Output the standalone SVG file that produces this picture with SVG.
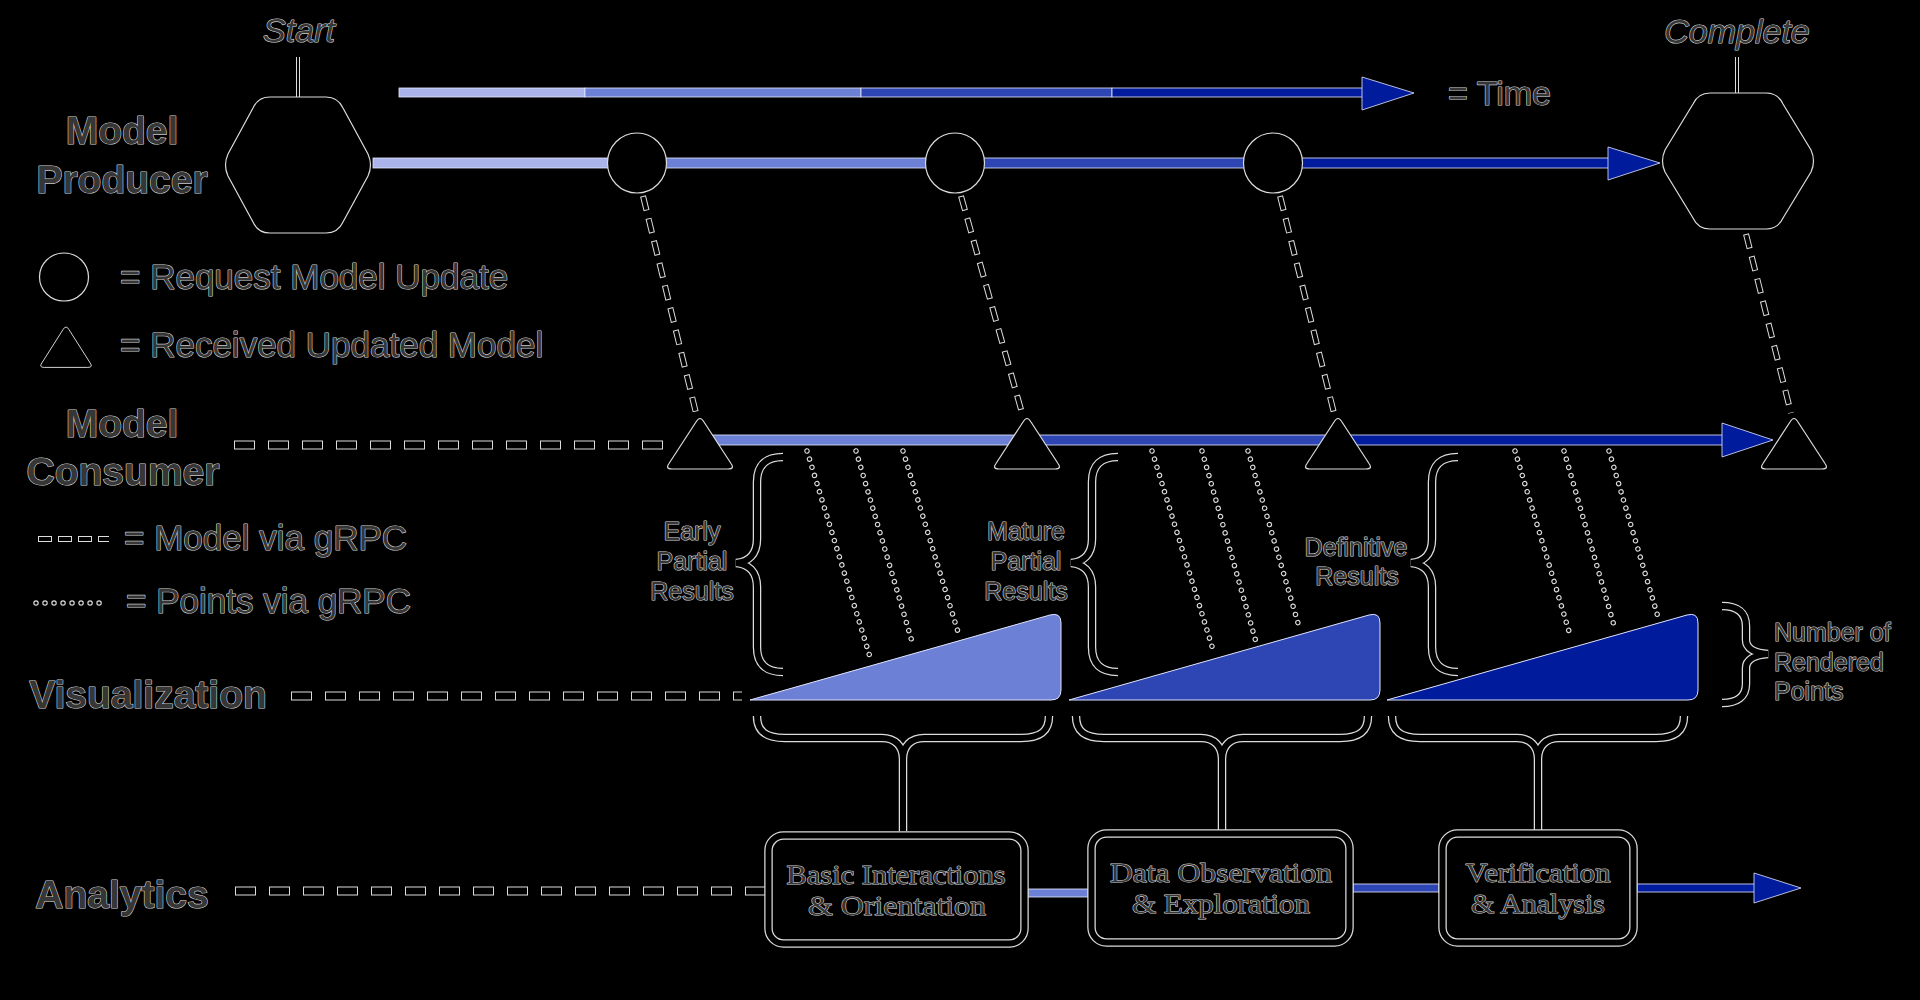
<svg xmlns="http://www.w3.org/2000/svg" xmlns:xlink="http://www.w3.org/1999/xlink" width="1920" height="1000" viewBox="0 0 1920 1000">
<defs>
<style>
.t{font-family:"Liberation Sans",Arial,sans-serif;fill:#363636;stroke:#d4d4d4;stroke-width:1.2;paint-order:stroke;stroke-linejoin:round}
.b{font-weight:bold;font-size:39px;text-anchor:middle}
.l{font-size:35px}
.s{font-size:25px}
.c{text-anchor:middle}
.i{font-style:italic;font-size:34px;text-anchor:middle}
.sf{font-family:"Liberation Serif","Times New Roman",serif;font-size:28px;text-anchor:middle;fill:#363636;stroke:#d4d4d4;stroke-width:1.1;paint-order:stroke}
.shape{fill:#000;stroke:#dcdcdc;stroke-width:1.2}
.c1{fill:#aab4ea}
.c2{fill:#6c80d6}
.c3{fill:#2e46b3}
.c4{fill:#001b9b}
.bar{stroke:#e6e8ff;stroke-width:0.8}
.dO{fill:none;stroke:#dcdcdc;stroke-width:9;stroke-dasharray:21 13}
.dI{fill:none;stroke:#000;stroke-width:7;stroke-dasharray:19 15;stroke-dashoffset:-1}
.mO{fill:none;stroke:#dcdcdc;stroke-width:6;stroke-dasharray:15 8}
.mI{fill:none;stroke:#000;stroke-width:4;stroke-dasharray:13 10;stroke-dashoffset:-1}
.pO{fill:none;stroke:#dcdcdc;stroke-width:5.5;stroke-linecap:round;stroke-dasharray:0.01 8.5}
.pI{fill:none;stroke:#000;stroke-width:3.2;stroke-linecap:round;stroke-dasharray:0.01 8.5}
.brO{fill:none;stroke:#dcdcdc;stroke-width:8.5}
.brI{fill:none;stroke:#000;stroke-width:6}
</style>
<path id="tri" d="M-4,6 Q0,-1 4,6 L31,47.5 Q35,53 28,53 L-28,53 Q-35,53 -31,47.5 Z"/>
<path id="vbrace" d="M47,0 C30,0 21,8 21,25 L21,82 C21,98 12,105 0,106 C12,107 21,114 21,130 L21,190 C21,207 30,215 47,215"/>
<path id="rbrace" d="M0,0 C15,0 24,6 24,20 L24,34 C24,42 32,47 46,48 C32,49 24,54 24,62 L24,78 C24,91 15,97 0,97"/>
<path id="hbrace" d="M0,0 C0,15 8,22 28,22 L125,22 C138,22 146,30 146,43 L146,115 M292,0 C292,15 284,22 264,22 L167,22 C154,22 146,30 146,43"/>
<path id="wedge" d="M0,88 L300,3 Q311,0 311,11 L311,78 Q311,88 301,88 Z"/>
</defs>
<rect x="0" y="0" width="1920" height="1000" fill="#000"/>

<g id="connectors">
  <!-- time legend arrow -->
  <rect class="c1 bar" x="399" y="88" width="186" height="9"/>
  <rect class="c2 bar" x="585" y="88" width="276" height="9"/>
  <rect class="c3 bar" x="861" y="88" width="251" height="9"/>
  <rect class="c4 bar" x="1112" y="88" width="252" height="9"/>
  <polygon class="c4" points="1362,77 1414,93 1362,110" stroke="#e6e8ff" stroke-width="0.8"/>
  <!-- producer timeline -->
  <rect class="c1 bar" x="373" y="158" width="264" height="10"/>
  <rect class="c2 bar" x="637" y="158" width="318" height="10"/>
  <rect class="c3 bar" x="955" y="158" width="318" height="10"/>
  <rect class="c4 bar" x="1273" y="158" width="338" height="10"/>
  <polygon class="c4" points="1608,147 1660,163 1608,180" stroke="#e6e8ff" stroke-width="0.8"/>
  <!-- consumer timeline -->
  <rect class="c2 bar" x="700" y="435" width="327" height="10"/>
  <rect class="c3 bar" x="1027" y="435" width="311" height="10"/>
  <rect class="c4 bar" x="1338" y="435" width="386" height="10"/>
  <polygon class="c4" points="1722,423 1773,440 1722,457" stroke="#e6e8ff" stroke-width="0.8"/>
  <!-- analytics timeline -->
  <rect class="c2 bar" x="1028" y="889" width="60" height="8"/>
  <rect class="c3 bar" x="1353" y="884" width="86" height="8"/>
  <rect class="c4 bar" x="1637" y="884" width="119" height="8"/>
  <polygon class="c4" points="1754,873 1801,888 1754,903" stroke="#e6e8ff" stroke-width="0.8"/>
  <!-- start/complete ticks -->
  <line x1="298" y1="57" x2="298" y2="97" stroke="#dcdcdc" stroke-width="4"/>
  <line x1="298" y1="57" x2="298" y2="97" stroke="#000" stroke-width="2"/>
  <line x1="1737" y1="57" x2="1737" y2="93" stroke="#dcdcdc" stroke-width="4"/>
  <line x1="1737" y1="57" x2="1737" y2="93" stroke="#000" stroke-width="2"/>
  <!-- lane dashed lines (model via gRPC) -->
  <path class="dO" d="M234,445 H672 M291,696 H742 M235,891 H766"/>
  <path class="dI" d="M234,445 H672 M291,696 H742 M235,891 H766"/>
  <!-- diagonal model transfers -->
  <path class="mO" d="M643,196 L696,413 M961,196 L1022,413 M1280,196 L1334,413 M1746,234 L1791,413"/>
  <path class="mI" d="M643,196 L696,413 M961,196 L1022,413 M1280,196 L1334,413 M1746,234 L1791,413"/>
  <!-- points via gRPC -->
  <path class="pO" d="M807,451 L870,657 M856,451 L913,645 M903,451 L958,632 M1152,451 L1214,653 M1202,451 L1256,642 M1248,451 L1300,630 M1515,451 L1571,638 M1564,451 L1615,629 M1609,451 L1658,617"/>
  <path class="pI" d="M807,451 L870,657 M856,451 L913,645 M903,451 L958,632 M1152,451 L1214,653 M1202,451 L1256,642 M1248,451 L1300,630 M1515,451 L1571,638 M1564,451 L1615,629 M1609,451 L1658,617"/>
  <!-- braces to analytics boxes -->
  <g transform="translate(757,716)"><use xlink:href="#hbrace" class="brO"/><use xlink:href="#hbrace" class="brI"/></g>
  <g transform="translate(1076,716)"><use xlink:href="#hbrace" class="brO"/><use xlink:href="#hbrace" class="brI"/></g>
  <g transform="translate(1392,716)"><use xlink:href="#hbrace" class="brO"/><use xlink:href="#hbrace" class="brI"/></g>
</g>

<g id="producer-start">
  <path class="shape" d="M270,97 L326,97 Q338,97 343,108 L368,154 Q373,165 368,176 L343,222 Q338,233 326,233 L270,233 Q258,233 253,222 L228,176 Q223,165 228,154 L253,108 Q258,97 270,97 Z"/>
  <text class="t i" x="299" y="42">Start</text>
</g>
<g id="producer-complete">
  <path class="shape" d="M1710,93 L1766,93 Q1778,93 1783,104 L1811,150 Q1816,161 1811,172 L1783,218 Q1778,229 1766,229 L1710,229 Q1698,229 1693,218 L1665,172 Q1660,161 1665,150 L1693,104 Q1698,93 1710,93 Z"/>
  <text class="t i" x="1737" y="43">Complete</text>
</g>
<g id="request-1"><ellipse class="shape" cx="637" cy="163" rx="29.5" ry="30"/></g>
<g id="request-2"><ellipse class="shape" cx="955" cy="163" rx="29.5" ry="30"/></g>
<g id="request-3"><ellipse class="shape" cx="1273" cy="163" rx="29.5" ry="30"/></g>

<g id="received-1"><use xlink:href="#tri" class="shape" x="700" y="416"/></g>
<g id="received-2"><use xlink:href="#tri" class="shape" x="1027" y="416"/></g>
<g id="received-3"><use xlink:href="#tri" class="shape" x="1338" y="416"/></g>
<g id="received-4"><use xlink:href="#tri" class="shape" x="1794" y="416"/></g>

<g id="lane-labels">
  <text class="t b" x="122" y="144">Model</text>
  <text class="t b" x="122" y="193">Producer</text>
  <text class="t b" x="122" y="437">Model</text>
  <text class="t b" x="123" y="485">Consumer</text>
  <text class="t b" x="148" y="708">Visualization</text>
  <text class="t b" x="122" y="908">Analytics</text>
</g>

<g id="legend">
  <text class="t l" x="1448" y="105" style="font-size:34px">= Time</text>
  <ellipse class="shape" cx="64" cy="277" rx="24.5" ry="24"/>
  <text class="t l" x="120" y="289">= Request Model Update</text>
  <use xlink:href="#tri" class="shape" transform="translate(66,325) scale(0.78,0.8)"/>
  <text class="t l" x="120" y="357">= Received Updated Model</text>
  <path d="M38,539 H109" fill="none" stroke="#dcdcdc" stroke-width="6" stroke-dasharray="14 6"/>
  <path d="M38,539 H109" fill="none" stroke="#000" stroke-width="4" stroke-dasharray="12 8" stroke-dashoffset="-1"/>
  <text class="t l" x="124" y="550">= Model via gRPC</text>
  <path class="pO" d="M36,603 H107" style="stroke-dasharray:0.01 9"/>
  <path class="pI" d="M36,603 H107" style="stroke-dasharray:0.01 9"/>
  <text class="t l" x="126" y="613">= Points via gRPC</text>
</g>

<g id="result-early">
  <g transform="translate(736,457)"><use xlink:href="#vbrace" class="brO"/><use xlink:href="#vbrace" class="brI"/></g>
  <text class="t s c" x="692" y="540">Early</text>
  <text class="t s c" x="692" y="570">Partial</text>
  <text class="t s c" x="692" y="600">Results</text>
</g>
<g id="result-mature">
  <g transform="translate(1071,457)"><use xlink:href="#vbrace" class="brO"/><use xlink:href="#vbrace" class="brI"/></g>
  <text class="t s c" x="1026" y="540">Mature</text>
  <text class="t s c" x="1026" y="570">Partial</text>
  <text class="t s c" x="1026" y="600">Results</text>
</g>
<g id="result-definitive">
  <g transform="translate(1411,457)"><use xlink:href="#vbrace" class="brO"/><use xlink:href="#vbrace" class="brI"/></g>
  <text class="t s c" x="1356" y="556">Definitive</text>
  <text class="t s c" x="1357" y="585">Results</text>
</g>

<g id="vis-1"><use xlink:href="#wedge" class="c2" x="750" y="612" stroke="#dfe3ff" stroke-width="1"/></g>
<g id="vis-2"><use xlink:href="#wedge" class="c3" x="1069" y="612" stroke="#dfe3ff" stroke-width="1"/></g>
<g id="vis-3"><use xlink:href="#wedge" class="c4" x="1387" y="612" stroke="#dfe3ff" stroke-width="1"/></g>

<g id="rendered-points">
  <g transform="translate(1722,606)"><use xlink:href="#rbrace" class="brO"/><use xlink:href="#rbrace" class="brI"/></g>
  <text class="t s" x="1774" y="641">Number of</text>
  <text class="t s" x="1774" y="671">Rendered</text>
  <text class="t s" x="1774" y="700">Points</text>
</g>

<g id="box-basic">
  <rect x="768.5" y="835.5" width="256" height="108" rx="15" fill="#000" stroke="#dcdcdc" stroke-width="8.5"/>
  <rect x="768.5" y="835.5" width="256" height="108" rx="15" fill="none" stroke="#000" stroke-width="6"/>
  <text class="sf" x="896" y="884" textLength="219" lengthAdjust="spacingAndGlyphs">Basic Interactions</text>
  <text class="sf" x="897" y="915" textLength="178" lengthAdjust="spacingAndGlyphs">&amp; Orientation</text>
</g>
<g id="box-data">
  <rect x="1091.5" y="833.5" width="258" height="109" rx="15" fill="#000" stroke="#dcdcdc" stroke-width="8.5"/>
  <rect x="1091.5" y="833.5" width="258" height="109" rx="15" fill="none" stroke="#000" stroke-width="6"/>
  <text class="sf" x="1221" y="882" textLength="222" lengthAdjust="spacingAndGlyphs">Data Observation</text>
  <text class="sf" x="1221" y="913" textLength="178" lengthAdjust="spacingAndGlyphs">&amp; Exploration</text>
</g>
<g id="box-verify">
  <rect x="1442.5" y="833.5" width="191" height="109" rx="15" fill="#000" stroke="#dcdcdc" stroke-width="8.5"/>
  <rect x="1442.5" y="833.5" width="191" height="109" rx="15" fill="none" stroke="#000" stroke-width="6"/>
  <text class="sf" x="1538" y="882" textLength="145" lengthAdjust="spacingAndGlyphs">Verification</text>
  <text class="sf" x="1538" y="913" textLength="134" lengthAdjust="spacingAndGlyphs">&amp; Analysis</text>
</g>
</svg>
